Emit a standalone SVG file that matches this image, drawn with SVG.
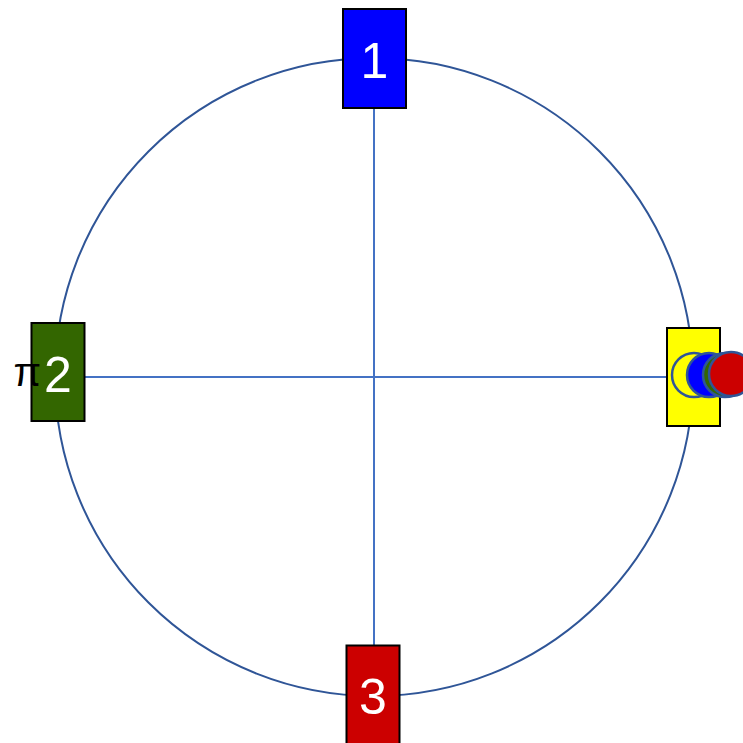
<svg xmlns="http://www.w3.org/2000/svg" width="743" height="743" viewBox="0 0 743 743">
<style>
.box{stroke:#000;stroke-width:2}
.lbl{font-family:"Liberation Sans",Arial,sans-serif;font-size:50px;fill:#fff;text-anchor:middle}
.axis{stroke:#4472c4;stroke-width:2;fill:none}
.dot{stroke:#2f5597;stroke-width:2.5}
</style>
<rect width="743" height="743" fill="#fff"/>
<circle cx="374" cy="377" r="319" fill="none" stroke="#2f5597" stroke-width="2"/>
<g id="connectors">
<line class="axis" x1="374" y1="108" x2="374" y2="646"/>
<line class="axis" x1="84" y1="377" x2="667" y2="377"/>
</g>
<g id="node1">
<rect class="box" x="343" y="9" width="63" height="99" fill="#0000ff"/>
<text class="lbl" x="374.5" y="78">1</text>
</g>
<g id="node2">
<rect class="box" x="31.5" y="323" width="53" height="98" fill="#336600"/>
<text class="lbl" x="58" y="392">2</text>
<text x="41" y="386" font-family="Liberation Sans,Arial,sans-serif" font-size="40" fill="#000" text-anchor="end">π</text>
</g>
<g id="node3">
<rect class="box" x="346.5" y="645.5" width="53" height="99" fill="#cc0000"/>
<text class="lbl" x="373" y="714">3</text>
</g>
<g id="node4">
<rect class="box" x="667" y="328" width="53" height="98" fill="#ffff00"/>
<circle class="dot" cx="694" cy="375" r="22" fill="#ffff00"/>
<circle class="dot" cx="709" cy="375" r="22" fill="#0000ff"/>
<circle class="dot" cx="725" cy="375" r="22" fill="#336600"/>
<circle class="dot" cx="731" cy="374" r="22" fill="#cc0000"/>
</g>
</svg>
